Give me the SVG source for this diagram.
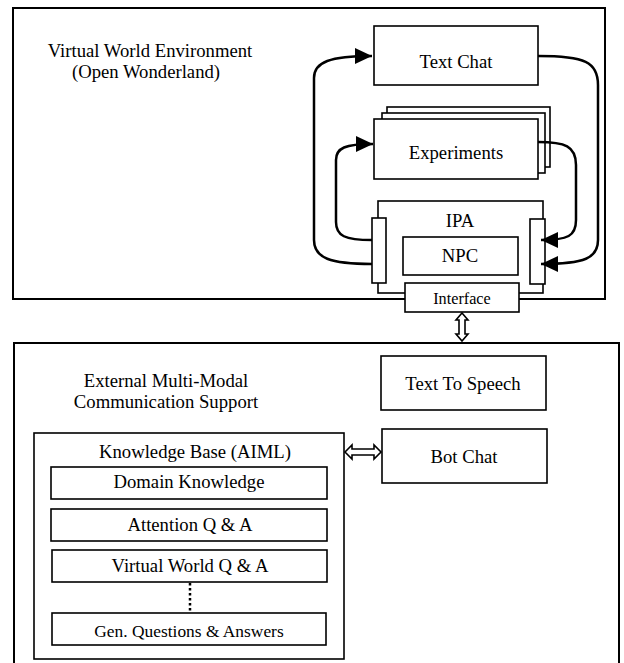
<svg xmlns="http://www.w3.org/2000/svg" width="624" height="663" viewBox="0 0 624 663">
<style>
.box{fill:#fff;stroke:#000;stroke-width:1.6}
.outer{fill:none;stroke:#000;stroke-width:2}
.t{font-family:"Liberation Serif","Times New Roman",serif;font-size:18.7px;fill:#000;text-anchor:middle}
.s{font-size:16.2px}
.m{font-size:17.4px}
.conn{fill:none;stroke:#000;stroke-width:2.5}
.dbl{fill:#fff;stroke:#000;stroke-width:1.6;stroke-linejoin:miter}
</style>
<defs>
<marker id="ah" markerUnits="userSpaceOnUse" markerWidth="17" markerHeight="16" refX="17" refY="8" orient="auto">
<path d="M0,0 L17,8 L0,16 z" fill="#000"/>
</marker>
</defs>
<rect width="624" height="663" fill="#fff"/>

<g id="virtual-world">
<rect class="outer" x="13" y="8" width="592" height="291"/>
<text class="t" x="150" y="57">Virtual World Environment</text>
<text class="t" x="146" y="78">(Open Wonderland)</text>
</g>

<g id="text-chat">
<rect class="box" x="374" y="26" width="164" height="59"/>
<text class="t" x="456" y="68">Text Chat</text>
</g>

<g id="experiments">
<rect class="box" x="387" y="107" width="163" height="60"/>
<rect class="box" x="382" y="113" width="163" height="60"/>
<rect class="box" x="374" y="119" width="164" height="60"/>
<text class="t" x="456" y="159">Experiments</text>
</g>

<g id="ipa">
<rect class="box" x="378" y="201" width="165" height="92"/>
<text class="t" x="460" y="227">IPA</text>
<rect class="box" x="372" y="218" width="14" height="65"/>
<rect class="box" x="530" y="219" width="15" height="65"/>
</g>

<g id="npc">
<rect class="box" x="403" y="237" width="115" height="38"/>
<text class="t" x="460" y="262">NPC</text>
</g>

<g id="interface">
<rect class="box" x="405" y="283" width="114" height="29"/>
<text class="t s" x="462" y="304">Interface</text>
</g>

<g id="external-support">
<rect class="outer" x="14" y="343" width="605" height="330"/>
<text class="t" x="166" y="387">External Multi-Modal</text>
<text class="t" x="166" y="408">Communication Support</text>
</g>

<g id="text-to-speech">
<rect class="box" x="381" y="356" width="165" height="54"/>
<text class="t" x="463" y="390">Text To Speech</text>
</g>

<g id="bot-chat">
<rect class="box" x="382" y="429" width="165" height="54"/>
<text class="t" x="464" y="463">Bot Chat</text>
</g>

<g id="knowledge-base">
<rect class="box" x="34" y="433" width="310" height="226"/>
<text class="t" x="195" y="458">Knowledge Base (AIML)</text>
</g>

<g id="domain-knowledge">
<rect class="box" x="51" y="467" width="276" height="32"/>
<text class="t" x="189" y="488">Domain Knowledge</text>
</g>

<g id="attention-qa">
<rect class="box" x="51" y="509" width="276" height="32"/>
<text class="t" x="190" y="531">Attention Q &amp; A</text>
</g>

<g id="virtual-world-qa">
<rect class="box" x="52" y="550" width="275" height="32"/>
<text class="t" x="190" y="572">Virtual World Q &amp; A</text>
</g>

<g id="gen-qa">
<rect class="box" x="52" y="613" width="274" height="32"/>
<text class="t m" x="189" y="637">Gen. Questions &amp; Answers</text>
</g>

<g id="connectors">
<path class="conn" d="M372,264 C330,264 314,258 314,240 L314,78 C314,62 330,56 372,56" marker-end="url(#ah)"/>
<path class="conn" d="M372,240 C345,240 336,236 336,222 L336,160 C336,148 345,144 373,144" marker-end="url(#ah)"/>
<path class="conn" d="M538,56 C585,56 598,62 598,85 L598,240 C598,258 585,264 541,264" marker-end="url(#ah)"/>
<path class="conn" d="M538,142 C565,142 576,146 576,165 L576,220 C576,236 568,240 541,240" marker-end="url(#ah)"/>
<polygon class="dbl" points="462,313 468,320 465,320 465,334 468,334 462,341 456,334 459,334 459,320 456,320"/>
<polygon class="dbl" points="345,452 352,445 352,449 374,449 374,445 381,452 374,459 374,455 352,455 352,459"/>
<line x1="190" y1="583" x2="190" y2="612" stroke="#000" stroke-width="2.5" stroke-dasharray="2.5,2.5"/>
</g>
</svg>
